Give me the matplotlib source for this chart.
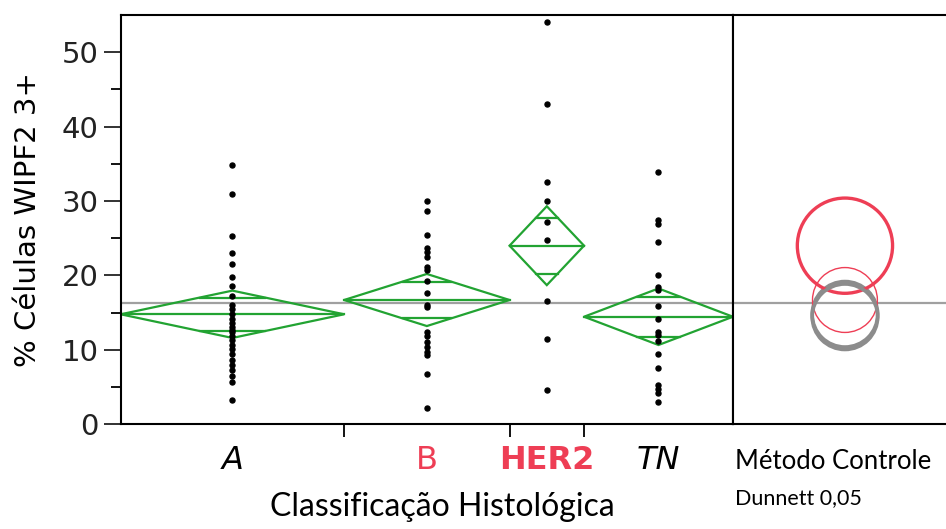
import numpy as np
import matplotlib.pyplot as plt
from matplotlib.patches import Polygon, Circle

# grupos e valores
groups = ["A", "B", "HER2", "TN"]
vals_a = [34.8, 30.9, 25.3, 23.0, 21.5, 19.8, 18.6, 17.3, 16.0, 15.45, 14.8, 14.2,
          13.65, 13.1, 12.7, 12.45, 11.9, 11.3, 10.65, 10.1, 9.45, 8.7, 8.0, 7.3,
          6.5, 5.7, 3.3]
vals_b = [30.0, 28.7, 25.5, 23.65, 23.2, 22.5, 21.1, 20.7, 19.2, 17.6, 16.0, 15.8,
          12.45, 11.8, 11.1, 10.4, 9.75, 9.3, 6.7, 2.15]
vals_her2 = [54.1, 43.0, 32.6, 30.0, 27.2, 24.8, 16.5, 11.5, 4.6]
vals_tn = [33.95, 27.5, 26.9, 24.5, 20.0, 18.5, 18.05, 15.9, 14.1, 12.45, 12.0, 11.2,
           9.45, 7.5, 5.3, 4.7, 4.2, 3.0]

# diamantes: media e meia-largura do IC 95%
means = [14.78, 16.7, 24.0, 14.45]
ci_half = [3.18, 3.5, 5.3, 3.8]
grand_mean = 16.3

# circulos de Dunnett
circle_r = [4.4, 4.36, 6.4, 4.4]
circle_col = ["#8c8c8c", "#ee3e55", "#ee3e55", "#8c8c8c"]
circle_lw = [2.6, 1.0, 2.4, 2.6]

label_col = ["black", "#ee3e55", "#ee3e55", "black"]
label_style = ["italic", "normal", "normal", "italic"]
label_weight = ["normal", "normal", "bold", "normal"]

green = "#22a332"
data = [vals_a, vals_b, vals_her2, vals_tn]
counts = [len(v) for v in data]
edges = np.concatenate([[0], np.cumsum(counts)])
centers = (edges[:-1] + edges[1:]) / 2

fig = plt.figure(figsize=(9.46, 5.29), dpi=100)
ax = fig.add_axes([0.1276, 0.198, 0.6472, 0.7736])
ax2 = fig.add_axes([0.7748, 0.198, 0.2252, 0.7736])

ax.axhline(grand_mean, color="#a0a0a0", lw=1.6, zorder=1)
ax2.axhline(grand_mean, color="#a0a0a0", lw=1.6, zorder=1)

for i, v in enumerate(data):
    x0, x1, xc = edges[i], edges[i + 1], centers[i]
    m, h = means[i], ci_half[i]
    ax.add_patch(Polygon([(x0, m), (xc, m + h), (x1, m), (xc, m - h)], closed=True,
                         fill=False, edgecolor=green, lw=1.6, zorder=2))
    ax.plot([x0, x1], [m, m], color=green, lw=1.6, zorder=2)
    d = h / np.sqrt(2)
    hw = (x1 - x0) / 2 * (1 - d / h)
    for s in (1, -1):
        ax.plot([xc - hw, xc + hw], [m + s * d, m + s * d], color=green, lw=1.6, zorder=2)
    ax.plot([xc] * len(v), v, "o", color="black", ms=3.6, zorder=3)

ax.set_xlim(edges[0], edges[-1])
ax.set_ylim(0, 55)
ax.set_yticks(np.arange(0, 51, 10))
ax.set_yticks(np.arange(5, 55, 10), minor=True)
ax.tick_params(axis="y", which="major", direction="out", length=12, width=1.3,
               labelsize=21, pad=4, colors="#222222")
ax.tick_params(axis="y", which="minor", direction="out", length=7, width=1.3)
ax.set_xticks(edges[1:-1])
ax.set_xticklabels([])
ax.tick_params(axis="x", which="major", direction="out", length=9, width=1.3)
ax.set_xticks(centers, minor=True)
ax.set_xticklabels(groups, minor=True)
ax.tick_params(axis="x", which="minor", length=0, pad=15, labelsize=23)
for lab, c, st, w in zip(ax.get_xticklabels(minor=True), label_col, label_style, label_weight):
    lab.set_color(c)
    lab.set_fontstyle(st)
    lab.set_fontweight(w)

ax.set_ylabel("% Células WIPF2 3+", fontsize=21, labelpad=14)
ax.set_xlabel("Classificação Histológica", fontsize=23, family="Lato")
ax.xaxis.set_label_coords(0.525, -0.165)
for sp in ax.spines.values():
    sp.set_linewidth(1.5)

# painel de comparacao
px_per_unit = ax.bbox.height / 55
xr = ax2.bbox.width / px_per_unit
ax2.set_xlim(0, xr)
ax2.set_ylim(0, 55)
cx = 15.05
for m, r, c, lw in zip(means, circle_r, circle_col, circle_lw):
    ax2.add_patch(Circle((cx, m), r, fill=False, edgecolor=c, lw=lw, zorder=3))
ax2.set_xticks([])
ax2.set_yticks([])
ax2.spines["right"].set_visible(False)
for sp in ax2.spines.values():
    sp.set_linewidth(1.5)
ax2.text(0.01, -0.09, "Método Controle", transform=ax2.transAxes, fontsize=18.5,
         family="Lato", va="center", ha="left")
ax2.text(0.01, -0.18, "Dunnett 0,05", transform=ax2.transAxes, fontsize=15.5,
         family="Lato", va="center", ha="left")

fig.savefig("out.png", dpi=100)
